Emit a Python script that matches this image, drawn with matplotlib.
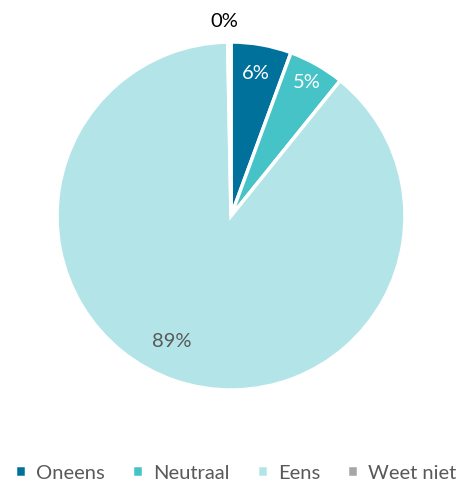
import matplotlib.pyplot as plt
import numpy as np

plt.rcParams['font.family'] = ['Lato', 'DejaVu Sans']

categories = ['Oneens', 'Neutraal', 'Eens', 'Weet niet']
values = [5.6, 5.2, 88.9, 0.3]
labels = ['6%', '5%', '89%', '0%']
colors = ['#00719B', '#45C3C7', '#B3E5E8', '#A6A6A6']
label_colors = ['white', 'white', '#595959', 'black']
label_dist = [0.83, 0.88, 0.8, 1.12]
label_shift = [0, 0, -6.5, 1.5]  # degrees, nudge like excel does

fig = plt.figure(figsize=(4.62, 4.86), dpi=100)
ax = fig.add_axes([57 / 462, 96 / 486, 348 / 462, 348 / 486])

wedges, _ = ax.pie(values, colors=colors, startangle=90, counterclock=False,
                   wedgeprops=dict(edgecolor='white', linewidth=2.5))

for w, lab, c, d, s in zip(wedges, labels, label_colors, label_dist, label_shift):
    mid = np.deg2rad((w.theta1 + w.theta2) / 2 + s)
    ax.text(d * np.cos(mid), d * np.sin(mid), lab, color=c, fontsize=14.5,
            ha='center', va='center')

ax.set_xlim(-1, 1)
ax.set_ylim(-1, 1)
ax.set_aspect('equal')

fig.legend(wedges, categories, loc='center', bbox_to_anchor=(0.51, 1 - 473 / 486),
           ncol=4, frameon=False, fontsize=14.5, handlelength=0.55, handleheight=0.55,
           handletextpad=0.5, columnspacing=1.35, labelcolor='#595959')

fig.savefig('out.png', dpi=100)
